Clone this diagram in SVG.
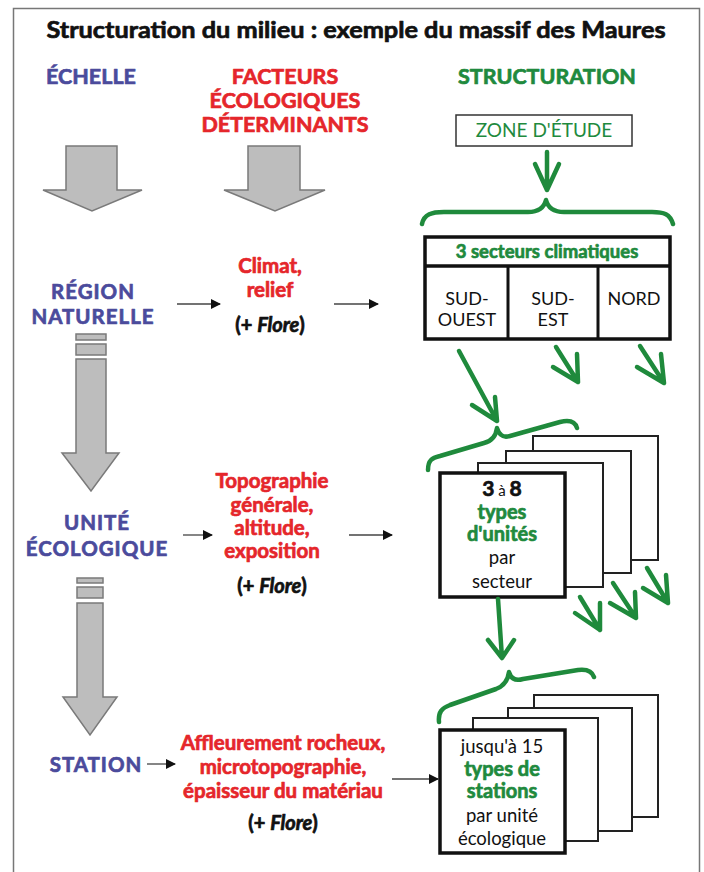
<svg xmlns="http://www.w3.org/2000/svg" width="704" height="872" viewBox="0 0 704 872">
<defs>
<style>
text{font-family:Lato,"Liberation Sans","DejaVu Sans",sans-serif;text-anchor:middle;stroke-width:0}
.b,.title,.hdr,.fac,.flore{font-weight:bold;stroke-width:0.7px;stroke-linejoin:round}
.title{font-size:23px;fill:#111;stroke:#111}
.hdr{font-size:21.5px}
.lbl{font-size:20.5px;letter-spacing:1px}
.blue{fill:#4b4b9c;stroke:#4b4b9c}
.red{fill:#e5262b;stroke:#e5262b}
.grn{fill:#1f8a3e;stroke:#1f8a3e}
.blk{fill:#111;stroke:#111}
.fac{font-size:20.5px}
.flore{font-size:20px;fill:#111;stroke:#111}
.cell{font-size:18px;fill:#111}
.box{font-size:18.5px}
.gb{font-size:20px}
.garrow{fill:#bdbdbd;stroke:#7a7a7a;stroke-width:1.5}
.gline{fill:none;stroke:#1f8a3c;stroke-width:4.5;stroke-linecap:round;stroke-linejoin:round}
.thin{fill:#fff;stroke:#222;stroke-width:2}
.thick{fill:#fff;stroke:#111;stroke-width:3.5}
.conn{stroke:#444;stroke-width:1.3;fill:none}
</style>
<marker id="ah" viewBox="0 0 10 10" refX="9" refY="5" markerWidth="10" markerHeight="10" markerUnits="userSpaceOnUse" orient="auto"><path d="M0,0 L10,5 L0,10 z" fill="#111"/></marker>
</defs>
<rect x="0" y="0" width="704" height="872" fill="#fff"/>
<rect x="13.5" y="8.5" width="686" height="900" fill="#fff" stroke="#777" stroke-width="1.5"/>

<text id="title" class="title" x="356" y="38" textLength="619" lengthAdjust="spacingAndGlyphs">Structuration du milieu : exemple du massif des Maures</text>

<g id="h-echelle"><text class="hdr blue" x="91" y="84">ÉCHELLE</text></g>
<g id="h-facteurs"><text class="hdr red" x="285" y="84">FACTEURS</text><text class="hdr red" x="285" y="108">ÉCOLOGIQUES</text><text class="hdr red" x="285" y="132">DÉTERMINANTS</text></g>
<g id="h-structuration"><text class="hdr grn" x="547" y="84">STRUCTURATION</text></g>

<g id="zone"><rect x="456" y="115" width="176" height="31" fill="#fff" stroke="#333" stroke-width="1.5"/><text class="grn" style="font-size:19px" x="544" y="137">ZONE D'ÉTUDE</text></g>

<g id="gray-arrows">
<polygon class="garrow" points="66,146 117,146 117,190 142,190 92,211 43,190 66,190"/>
<polygon class="garrow" points="248,146 300,146 300,190 325,190 275,211 224,190 248,190"/>
<rect class="garrow" x="76" y="334" width="30" height="6"/>
<rect class="garrow" x="76" y="344" width="30" height="11"/>
<polygon class="garrow" points="76,359 106,359 106,453 119,453 91,491 62,453 76,453"/>
<rect class="garrow" x="77" y="578" width="26" height="5"/>
<rect class="garrow" x="77" y="587" width="26" height="11"/>
<polygon class="garrow" points="77,603 103,603 103,697 117,697 90,735 63,697 77,697"/>
</g>

<g id="region"><text class="hdr lbl blue" x="93" y="299">RÉGION</text><text class="hdr lbl blue" x="93" y="324">NATURELLE</text></g>
<g id="unite"><text class="hdr lbl blue" x="97" y="530">UNITÉ</text><text class="hdr lbl blue" x="97" y="556">ÉCOLOGIQUE</text></g>
<g id="station"><text class="hdr lbl blue" x="96" y="772">STATION</text></g>

<g id="f-climat"><text class="fac red" x="270" y="273">Climat,</text><text class="fac red" x="270" y="297">relief</text><text class="flore" x="270" y="332">(+ <tspan font-style="italic">Flore</tspan>)</text></g>
<g id="f-topo"><text class="fac red" x="272" y="488">Topographie</text><text class="fac red" x="272" y="512">générale,</text><text class="fac red" x="272" y="535">altitude,</text><text class="fac red" x="272" y="558">exposition</text><text class="flore" x="272" y="593">(+ <tspan font-style="italic">Flore</tspan>)</text></g>
<g id="f-affl"><text class="fac red" x="283" y="750">Affleurement rocheux,</text><text class="fac red" x="283" y="774">microtopographie,</text><text class="fac red" x="283" y="798">épaisseur du matériau</text><text class="flore" x="283" y="830">(+ <tspan font-style="italic">Flore</tspan>)</text></g>

<g id="secteurs">
<rect class="thick" x="425" y="237" width="245" height="102"/>
<line x1="425" y1="266" x2="670" y2="266" stroke="#111" stroke-width="3.5"/>
<line x1="508" y1="266" x2="508" y2="339" stroke="#111" stroke-width="3"/>
<line x1="598" y1="266" x2="598" y2="339" stroke="#111" stroke-width="3"/>
<text class="grn b" style="font-size:18.5px" x="547" y="258">3 secteurs climatiques</text>
<text class="cell" x="467" y="305">SUD-</text><text class="cell" x="467" y="326">OUEST</text>
<text class="cell" x="553" y="305">SUD-</text><text class="cell" x="553" y="326">EST</text>
<text class="cell" x="634" y="305">NORD</text>
</g>

<g id="unites">
<rect class="thin" x="533" y="436" width="125" height="124"/>
<rect class="thin" x="506" y="451" width="125" height="122"/>
<rect class="thin" x="478" y="463" width="125" height="124"/>
<rect class="thick" x="440" y="473" width="125" height="124"/>
<text class="box" x="502" y="496" fill="#111"><tspan class="b blk" style="font-size:21px">3</tspan><tspan style="font-size:15px"> à </tspan><tspan class="b blk" style="font-size:21px">8</tspan></text>
<text class="gb grn b" x="502" y="519">types</text>
<text class="gb grn b" x="502" y="541">d'unités</text>
<text class="box" fill="#111" x="502" y="564">par</text>
<text class="box" fill="#111" x="502" y="588">secteur</text>
</g>

<g id="stations">
<rect class="thin" x="534" y="695" width="124" height="122"/>
<rect class="thin" x="508" y="708" width="124" height="123"/>
<rect class="thin" x="473" y="718" width="125" height="123"/>
<rect class="thick" x="440" y="730" width="125" height="123"/>
<text class="box" fill="#111" x="502" y="753">jusqu'à 15</text>
<text class="gb grn b" x="502" y="776">types de</text>
<text class="gb grn b" x="502" y="798">stations</text>
<text class="box" fill="#111" x="502" y="822">par unité</text>
<text class="box" fill="#111" x="502" y="845">écologique</text>
</g>

<g id="connectors">
<line class="conn" x1="177" y1="304" x2="220" y2="304" marker-end="url(#ah)"/>
<line class="conn" x1="334" y1="304" x2="378" y2="304" marker-end="url(#ah)"/>
<line class="conn" x1="183" y1="535" x2="212" y2="535" marker-end="url(#ah)"/>
<line class="conn" x1="349" y1="535" x2="392" y2="535" marker-end="url(#ah)"/>
<line class="conn" x1="147" y1="764" x2="175" y2="764" marker-end="url(#ah)"/>
<line class="conn" x1="392" y1="779" x2="438" y2="779" marker-end="url(#ah)"/>
<path class="gline" d="M547,152 L547,190 M535,164 L547,190 L559,164"/>
<path class="gline" d="M422,224 C424,214 432,212 444,212 L528,212 C538,212 544,208 546,200 C548,208 554,212 564,212 L652,212 C664,212 670,214 673,224"/>
<path class="gline" d="M459,351 L497,421 M472,405 L497,421 L495,397"/>
<path class="gline" d="M556,347 L578,382 M553,367 L578,382 L577,354"/>
<path class="gline" d="M640,346 L664,383 M637,367 L664,383 L661,354"/>
<path class="gline" d="M428,470 C428,460 432,458 440,456 L484,443 C492,441 496,436 497,428 C499,435 503,438 510,436 L560,422 C568,420 575,421 577,428"/>
<path class="gline" d="M498,599 L502,658 M488,640 L502,658 L514,640"/>
<path class="gline" d="M580,597 L600,630 M575,613 L600,630 L600,603"/>
<path class="gline" d="M613,583 L636,618 M610,603 L636,618 L635,592"/>
<path class="gline" d="M647,568 L668,603 M643,588 L668,603 L666,575"/>
<path class="gline" d="M439,722 C438,712 442,708 450,705 L496,689 C504,686 508,680 509,672 C511,679 516,681 523,679 L578,670 C586,669 592,671 594,677"/>
</g>
</svg>
